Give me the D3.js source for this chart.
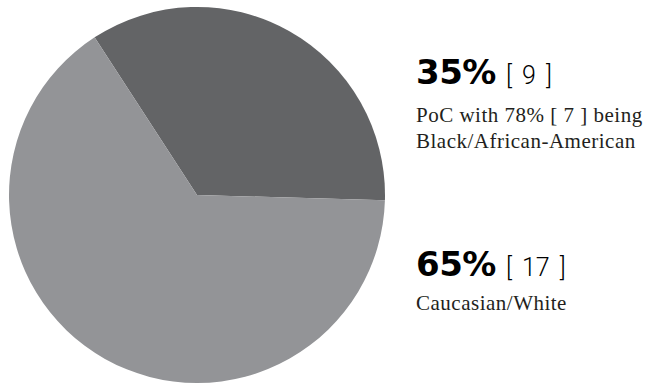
<!DOCTYPE html>
<html>
<head>
<meta charset="utf-8">
<script src="https://cdn.jsdelivr.net/npm/d3@7"></script>
<style>
  body { margin: 0; background: #fff; }
</style>
</head>
<body>
<svg id="pie"></svg>
<script>
const categories = ["PoC", "Caucasian/White"];
const counts = [9, 17];
const percents = ["35%", "65%"];
const notes = [["PoC with 78% [ 7 ] being", "Black/African-American"], ["Caucasian/White"]];
const colors = ["#636466", "#939497"];

const svgWidth = 652;
const svgHeight = 385;

const svg = d3.select("#pie")
  .attr("width", svgWidth)
  .attr("height", svgHeight);

const cx = 197, cy = 195, radius = 188;

// dark slice sits on the upper right
const start = -33 * Math.PI / 180;
const pie = d3.pie()
  .sort(null)
  .startAngle(start)
  .endAngle(start + 2 * Math.PI);

const arc = d3.arc().innerRadius(0).outerRadius(radius);

const g = svg.append("g").attr("transform", `translate(${cx},${cy})`);

g.selectAll("path")
  .data(pie(counts))
  .enter()
  .append("path")
  .attr("d", arc)
  .attr("fill", (d, i) => colors[i]);

// labels on the right
const labelY = [84, 276];
const noteY = [38, 34];
const labels = svg.selectAll("g.label")
  .data(categories)
  .enter()
  .append("g")
  .attr("class", "label")
  .attr("transform", (d, i) => `translate(416,${labelY[i]})`);

const big = labels.append("text")
  .attr("font-family", "'DejaVu Sans', sans-serif")
  .attr("font-weight", "bold")
  .attr("font-size", 34)
  .attr("letter-spacing", -0.5)
  .attr("fill", "#000");

big.append("tspan").text((d, i) => percents[i]);
big.append("tspan")
  .attr("dx", 10)
  .attr("font-family", "Roboto, sans-serif")
  .attr("font-weight", 300)
  .attr("font-size", 25)
  .attr("letter-spacing", 0)
  .attr("word-spacing", 4)
  .text((d, i) => "[ " + counts[i] + " ]");

labels.each(function (d, i) {
  d3.select(this).selectAll("text.note")
    .data(notes[i])
    .enter()
    .append("text")
    .attr("class", "note")
    .attr("x", 0)
    .attr("y", (t, j) => noteY[i] + j * 26)
    .attr("font-family", "'Liberation Serif', serif")
    .attr("font-size", 21)
    .attr("letter-spacing", 0.5)
    .attr("fill", "#231f20")
    .text(t => t);
});
</script>
</body>
</html>
